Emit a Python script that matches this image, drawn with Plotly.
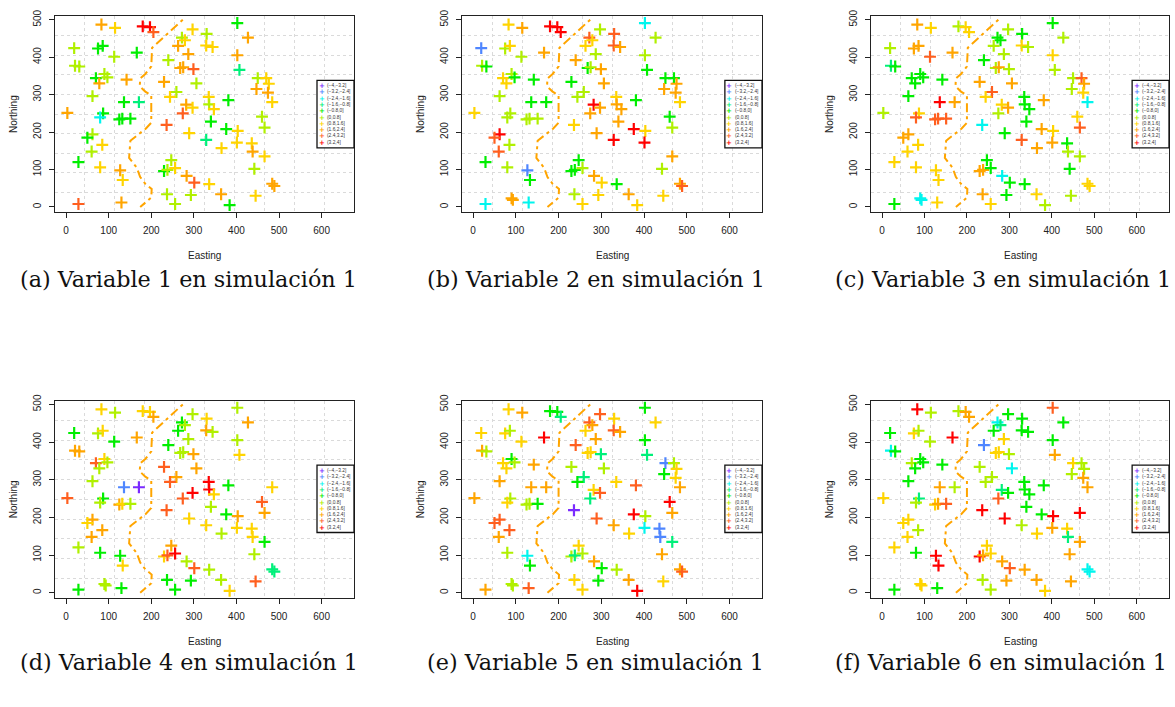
import plotly.graph_objects as go
import numpy as np

# ---------------- data ----------------
easting = [83, 115, 180, 197, 205, 297, 330, 402, 272, 279,
           263, 329, 344, 427, 19, 75, 86, 113, 166, 287,
           402, 240, 21, 31, 268, 275, 299, 407, 70, 90,
           97, 78, 142, 230, 306, 450, 470, 476, 447, 474,
           484, 62, 259, 244, 335, 336, 347, 282, 297, 274,
           136, 171, 381, 3, 87, 80, 125, 132, 151, 236,
           340, 376, 403, 460, 466, 62, 50, 289, 329, 401,
           436, 438, 365, 466, 442, 85, 60, 29, 80, 127,
           133, 247, 230, 238, 256, 283, 301, 336, 364, 237,
           293, 256, 384, 445, 484, 489, 29, 130, 90, 93]
northing = [487, 478, 482, 480, 467, 474, 462, 491, 452, 445,
            430, 431, 427, 452, 424, 423, 430, 401, 412, 408,
            405, 392, 377, 375, 371, 373, 368, 366, 344, 355,
            346, 330, 340, 334, 330, 344, 344, 329, 315, 305,
            280, 296, 307, 294, 294, 274, 261, 273, 265, 250,
            280, 280, 285, 251, 250, 239, 234, 236, 236, 219,
            228, 208, 203, 241, 212, 194, 185, 197, 179, 172,
            170, 148, 157, 135, 102, 166, 148, 120, 106, 98,
            72, 125, 96, 99, 104, 83, 65, 61, 34, 34,
            32, 8, 5, 30, 62, 56, 8, 12, 23, 19]

# class index (0..9) of each location, None = not drawn
var1 = [7, 6, 9, 9, 8, 6, 5, 4, 5, 6,
        7, 6, 6, 7, 5, 4, 4, 5, 4, 7,
        7, 5, 5, 5, 7, 7, 8, 3, 4, 5,
        5, 7, 7, 7, 5, 5, 6, 6, 7, 7,
        6, 5, 5, 6, 6, 5, 6, 7, 6, 8,
        4, 3, 4, 7, 4, 2, 4, 4, 4, 8,
        4, 4, 6, 5, 5, 5, 4, 6, 3, 6,
        6, 7, 6, 6, 5, 6, 5, 4, 6, 7,
        6, 5, 4, 5, 6, 7, 8, 6, 7, 5,
        5, 5, 4, 6, 7, 7, 8, 7, None, None]
var2 = [6, 7, 9, 9, 9, 5, 8, 2, 8, 6,
        6, 8, 7, 5, 1, 5, 6, 5, 7, 5,
        5, 7, 5, 4, 4, 5, 7, 4, 6, 5,
        4, 6, 4, 4, 7, 4, 4, 7, 7, 7,
        6, 5, 5, 5, 6, 7, 7, 9, 7, 7,
        4, 4, 4, 6, 5, 5, 5, 5, 5, 6,
        7, 9, 6, 4, 5, 9, 8, 7, 9, 9,
        None, None, None, 7, 5, 5, 8, 4, 5, 1,
        4, 4, 4, 4, 5, 7, 6, 4, 7, 5,
        6, 6, 6, 6, 7, 8, 2, 2, 7, 7]
var3 = [7, 6, 5, 6, 6, 5, 4, 4, 4, 4,
        5, 6, 5, 5, 5, 7, 7, 8, 7, 5,
        6, 4, 3, 4, 5, 7, 5, 5, 4, 4,
        4, 4, 4, 7, 7, 5, 8, 7, 5, 6,
        2, 4, 8, 6, 4, 4, 4, 6, 7, 5,
        9, 7, 7, 5, 6, 8, 8, 8, 8, 2,
        4, 7, 6, 6, 8, 7, 7, 4, 8, 7,
        4, 5, 7, 5, 4, 6, 6, 6, 6, 6,
        6, 4, 7, 7, 4, 2, 4, 4, 6, 7,
        4, 6, 5, 5, 6, 6, 4, 6, 2, 2]
var4 = [6, 5, 6, 6, 7, 5, 6, 5, 4, 5,
        4, 7, 5, 7, 4, 5, 6, 4, 7, 5,
        5, 4, 7, 7, 5, 5, 7, 6, 8, 6,
        5, 5, None, 8, 7, None, None, None, None, None,
        6, 5, 7, 8, 9, 9, 6, None, 9, 8,
        1, 0, 4, 8, 4, 5, 7, 6, 5, 8,
        5, 4, 7, 8, 7, 7, 6, 6, 6, 6,
        6, 6, 5, 4, 5, 7, 7, 5, 4, 4,
        6, 7, 6, 8, 9, 5, 8, 5, 5, 4,
        4, 4, 6, 8, 3, 3, 4, 4, 5, 5]
var5 = [6, 7, 4, 4, 3, 8, 6, 4, 8, 7,
        6, 8, 7, 6, 6, 6, 5, 6, 9, 7,
        4, 8, 7, 5, 6, 6, 3, 3, 6, 4,
        5, 6, 7, 5, 5, 1, 5, 6, 4, 6,
        7, 7, 3, 4, 6, None, None, 6, 8, 3,
        7, 7, 8, 7, 5, 6, 5, 5, 4, 0,
        None, 9, 5, 9, 7, 8, 8, 8, 7, 2,
        1, 1, 6, 3, 7, 8, 7, None, 5, 2,
        4, 6, 5, 3, 5, 7, 4, 5, 7, 6,
        4, 6, 9, 6, 7, 8, 7, 8, 5, 5]
var6 = [9, 5, 5, 7, 7, 4, 4, 8, 2, 3,
        4, 4, 4, 4, 4, 6, 5, 5, 9, 6,
        4, 1, 2, 4, 6, 6, 5, 7, 5, 4,
        4, 4, 4, 5, 2, 6, 5, 5, 5, 7,
        7, 4, 5, 5, 4, 4, 4, 3, 4, 8,
        7, 5, 4, 6, 3, 5, 6, 7, 8, 9,
        4, 4, 9, None, 9, 6, 6, 9, 5, 7,
        6, 3, 6, 7, 7, 5, 6, 6, 4, 9,
        9, 6, 9, 7, 6, 7, 8, 7, 7, 5,
        7, 5, 6, 7, 2, 2, 4, 4, 6, 6]

class_labels = ["(\u22124,\u22123.2]", "(\u22123.2,\u22122.4]", "(\u22122.4,\u22121.6]",
                "(\u22121.6,\u22120.8]", "(\u22120.8,0]", "(0,0.8]", "(0.8,1.6]",
                "(1.6,2.4]", "(2.4,3.2]", "(3.2,4]"]

boundary_e = [274, 202, 200, 186, 174, 173, 186, 200, 200, 187, 151, 148, 166, 174, 186, 201, 200, 174]
boundary_n = [500, 425, 375, 355, 343, 322, 308, 298, 225, 209, 177, 131, 105, 80, 62, 48, 25, 0]

x_ticks = [0, 100, 200, 300, 400, 500, 600]
y_ticks = [0, 100, 200, 300, 400, 500]

captions = ["(a) Variable 1 en simulación 1", "(b) Variable 2 en simulación 1",
            "(c) Variable 3 en simulación 1", "(d) Variable 4 en simulación 1",
            "(e) Variable 5 en simulación 1", "(f) Variable 6 en simulación 1"]

variables = [var1, var2, var3, var4, var5, var6]

# ---------------- style ----------------
palette = ["#7B2BFF", "#4F86FF", "#00F5EE", "#00F07A", "#00EE00",
           "#B0F000", "#FFD400", "#FFA500", "#FF5F1F", "#FF0000"]

W, H = 1175, 707
col_px = [(55, 354), (462, 762), (871, 1169)]
row_px = [(10, 208), (398, 597)]
cap_x = [18, 425, 833]
cap_y = [275, 662]
xr = [-26, 676]
yr = [-14, 510]
gx = list(np.linspace(xr[0], xr[1], 11)[1:-1])
gy = list(np.linspace(yr[0], yr[1], 11)[1:-1])

tick_font = dict(family="Liberation Sans, Arial, sans-serif", size=10, color="#222")

fig = go.Figure()
layout = dict(width=W, height=H, margin=dict(l=0, r=0, t=0, b=0),
              paper_bgcolor="white", plot_bgcolor="white", showlegend=False)
shapes = []
annotations = []

legend_fs = 4.85  # 1.3 * 4.85 ~= 6.3 px row spacing
sym_text = "<br>".join(
    '<span style="color:%s;font-size:7px;font-weight:bold">+</span>' % palette[j]
    for j in range(len(class_labels)))
lab_text = "<br>".join(class_labels)

for k in range(6):
    r, c = divmod(k, 3)
    suf = "" if k == 0 else str(k + 1)
    xa, ya = "x" + suf, "y" + suf
    x0p, x1p = col_px[c]
    y0p, y1p = row_px[r]

    vals = variables[k]
    idx = [i for i, v in enumerate(vals) if v is not None]
    cols = [palette[vals[i]] for i in idx]

    fig.add_trace(go.Scatter(
        x=boundary_e, y=boundary_n, mode="lines", xaxis=xa, yaxis=ya,
        line=dict(color="#FFA500", width=2, dash="3px,4px,9px,4px"),
        hoverinfo="skip", showlegend=False))
    fig.add_trace(go.Scatter(
        x=[easting[i] for i in idx], y=[northing[i] for i in idx],
        mode="markers", xaxis=xa, yaxis=ya,
        marker=dict(symbol="cross-thin", size=8.5, color=cols,
                    line=dict(color=cols, width=2.2)),
        text=[class_labels[vals[i]] for i in idx], hoverinfo="x+y+text",
        showlegend=False))

    layout["xaxis" + suf] = dict(
        domain=[x0p / W, x1p / W], range=xr, anchor=ya,
        tickmode="array", tickvals=x_ticks, ticks="outside", ticklen=5,
        tickcolor="#222", tickfont=tick_font, ticklabelstandoff=4,
        showline=True, mirror=True, linecolor="#222", linewidth=1,
        showgrid=False, zeroline=False, fixedrange=True,
        minor=dict(tickmode="array", tickvals=gx, showgrid=True,
                   griddash="dot", gridcolor="#dadada", gridwidth=1, ticks=""))
    layout["yaxis" + suf] = dict(
        domain=[1 - y1p / H, 1 - y0p / H], range=yr, anchor=xa,
        tickmode="array", tickvals=y_ticks, ticks="outside", ticklen=5,
        tickcolor="#222", tickfont=tick_font, tickangle=-90, ticklabelstandoff=4,
        showline=True, mirror=True, linecolor="#222", linewidth=1,
        showgrid=False, zeroline=False, fixedrange=True,
        minor=dict(tickmode="array", tickvals=gy, showgrid=True,
                   griddash="dot", gridcolor="#dadada", gridwidth=1, ticks=""))

    # axis titles
    annotations.append(dict(text="Easting", xref="paper", yref="paper",
                            x=(x0p + x1p) / 2 / W, y=1 - (y1p + 44) / H,
                            xanchor="center", yanchor="middle", showarrow=False,
                            font=dict(family="Liberation Sans, Arial, sans-serif", size=10, color="#222")))
    annotations.append(dict(text="Northing", xref="paper", yref="paper",
                            x=(x0p - 42) / W, y=1 - (y0p + y1p) / 2 / H, textangle=-90,
                            xanchor="center", yanchor="middle", showarrow=False,
                            font=dict(family="Liberation Sans, Arial, sans-serif", size=10, color="#222")))
    # caption
    annotations.append(dict(text=captions[k], xref="paper", yref="paper",
                            x=cap_x[c] / W, y=1 - cap_y[r] / H, xanchor="left", yanchor="middle",
                            showarrow=False,
                            font=dict(family="DejaVu Serif, serif", size=22.3, color="#111")))

    # legend box (pixel layout relative to plot area)
    ph = y1p - y0p
    lx0 = (317 - 55) / 299
    ly_top, ly_bot = (75 - 10), (143 - 10)
    shapes.append(dict(type="rect", xref=xa + " domain", yref=ya + " domain",
                       x0=lx0, x1=1.0, y0=1 - ly_bot / ph, y1=1 - ly_top / ph,
                       line=dict(color="#111", width=1.3), fillcolor="white", layer="above"))
    ymid = 1 - (71 + 6.3 * 4.5) / ph
    annotations.append(dict(text=sym_text, xref=xa + " domain", yref=ya + " domain",
                            x=(321.5 - 55) / 299, y=ymid, xanchor="center", yanchor="middle",
                            align="center", showarrow=False, borderpad=0,
                            font=dict(family="DejaVu Sans, sans-serif", size=legend_fs, color="#333")))
    annotations.append(dict(text=lab_text, xref=xa + " domain", yref=ya + " domain",
                            x=(326.3 - 55) / 299, y=ymid, xanchor="left", yanchor="middle",
                            align="left", showarrow=False, borderpad=0,
                            font=dict(family="Liberation Sans, Arial, sans-serif", size=legend_fs, color="#333")))

layout["shapes"] = shapes
layout["annotations"] = annotations
fig.update_layout(**layout)
fig.write_html("out.html", config={"displayModeBar": False},
               post_script="document.body.style.margin='0';")
